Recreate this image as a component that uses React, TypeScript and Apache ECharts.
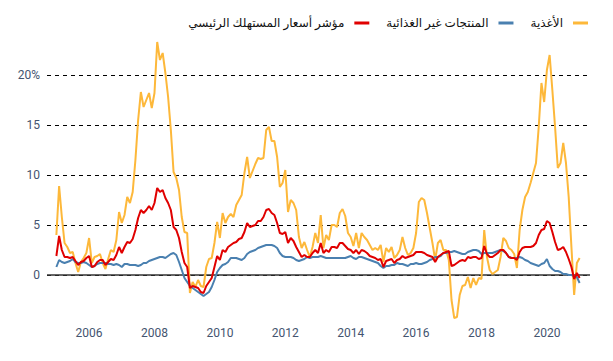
import React, { useEffect, useRef } from "react";
import * as echarts from "echarts";

const startYear = 2005;
const seriesNames = ["الأغذية", "المنتجات غير الغذائية", "مؤشر أسعار المستهلك الرئيسي"];
const legendOrder = ["مؤشر أسعار المستهلك الرئيسي", "المنتجات غير الغذائية", "الأغذية"];
const colors = ["#fdb83a", "#4a80b0", "#e00000"];
const xTickValues = [2006, 2008, 2010, 2012, 2014, 2016, 2018, 2020];
const yTickValues = [0, 5, 10, 15, 20];

// monthly values, Jan 2005 .. Jan 2021
const food = [
  4.0, 8.9, 5.8, 3.2, 2.8, 2.2, 2.3, 1.2, 0.3, 1.3, 1.7, 2.2,
  3.7, 1.2, 1.8, 1.9, 2.1, 1.2, 0.6, 1.6, 2.5, 2.3, 3.5, 6.3,
  5.2, 6.0, 7.8, 7.2, 8.3, 11.5, 15.5, 18.3, 16.8, 17.5, 18.2, 16.7,
  18.2, 23.3, 21.5, 22.2, 20.2, 17.8, 14.5, 10.3, 9.7, 8.5, 5.8, 4.3,
  4.2, -1.8, -0.7, -1.2, -0.5, -1.1, -1.2, 0.8, 1.6, 1.7, 3.2, 5.3,
  3.7, 6.2, 5.2, 5.8, 6.1, 5.8, 7.0, 7.5, 8.0, 10.2, 11.8, 9.7,
  10.4, 11.1, 11.7, 11.6, 11.7, 14.5, 14.8, 13.4, 13.4, 11.8, 8.8, 9.2,
  10.5, 6.3, 7.5, 7.2, 6.5, 3.8, 2.7, 3.3, 2.5, 1.8, 2.8, 4.2,
  3.2, 6.0, 2.7, 4.0, 3.5, 5.0, 5.0, 4.8, 6.2, 6.6, 5.9, 4.2,
  3.8, 2.9, 4.2, 2.7, 4.2, 3.8, 3.5, 3.0, 2.5, 2.7, 2.5, 3.0,
  1.3, 2.7, 2.3, 2.8, 1.7, 2.0, 2.5, 3.8, 2.7, 2.0, 2.2, 2.7,
  4.2, 7.3, 7.7, 7.5, 6.2, 4.7, 3.2, 1.5, 3.2, 3.5, 2.5, 2.5,
  1.5, -2.5, -4.3, -4.2, -2.0, -1.1, -1.0, -0.2, -1.3, -0.3, -1.0, -0.3,
  -0.4, 4.5, 1.8, 0.5, 0.1, 0.3, 0.5, 1.8, 3.7, 3.4, 2.7, 2.5,
  2.1, 0.7, 4.5, 6.5, 7.8, 8.3, 9.2, 10.2, 11.2, 14.8, 19.2, 17.3,
  20.5, 22.0, 18.5, 14.8, 10.7, 11.2, 13.2, 11.2, 7.8, 2.8, -2.0, 1.2,
  1.7,
];

const nonFood = [
  0.8, 1.5, 1.3, 1.2, 1.3, 1.4, 1.6, 1.3, 1.2, 1.2, 1.3, 1.2,
  1.0, 0.8, 0.9, 1.1, 1.2, 1.2, 1.2, 1.1, 1.1, 1.0, 1.1, 1.0,
  0.8, 1.1, 1.1, 1.0, 1.0, 1.0, 0.9, 1.0, 1.2, 1.2, 1.4, 1.5,
  1.6, 1.7, 1.8, 1.8, 1.7, 1.9, 2.1, 2.2, 2.0, 1.3, 0.5, -0.3,
  -0.7, -1.1, -1.3, -1.5, -1.7, -1.9, -2.1, -1.9, -1.7, -1.2, -0.5, 0.3,
  0.7, 1.0, 1.1, 1.3, 1.7, 1.7, 1.7, 1.6, 1.5, 1.7, 2.1, 2.3,
  2.4, 2.5, 2.7, 2.8, 2.9, 3.0, 3.0, 3.0, 2.9, 2.7, 2.2, 1.9,
  1.8, 1.8, 1.8, 1.7, 1.5, 1.4, 1.5, 1.6, 1.8, 1.7, 1.8, 1.8,
  1.8, 1.9, 1.8, 1.7, 1.7, 1.7, 1.7, 1.7, 1.7, 1.7, 1.7, 1.8,
  1.9, 1.7, 1.6, 1.8, 1.8, 1.7, 1.6, 1.5, 1.4, 1.3, 1.2, 0.9,
  0.7, 0.9, 0.9, 1.0, 1.0, 1.2, 1.1, 1.1, 1.0, 0.9, 1.1, 1.1,
  1.2, 1.1, 1.1, 1.2, 1.3, 1.5, 1.6, 1.8, 1.8, 1.9, 2.2, 2.2,
  2.3, 2.3, 2.4, 2.3, 2.2, 2.1, 2.1, 2.3, 2.4, 2.5, 2.5, 2.4,
  2.1, 2.2, 2.2, 2.2, 2.2, 2.3, 2.4, 2.5, 2.4, 2.2, 1.8, 1.7,
  1.7, 1.7, 1.8, 1.7, 1.5, 1.4, 1.2, 1.1, 1.0, 0.9, 1.1, 1.2,
  1.6, 0.9, 0.6, 0.4, 0.4, 0.3, 0.1, 0.1, 0.0, 0.0, -0.1, -0.2,
  -0.8,
];

const cpi = [
  1.9, 3.9, 2.5, 1.8, 1.8, 1.7, 1.8, 1.4, 1.0, 1.3, 1.4, 1.7,
  1.9, 0.8, 0.9, 1.3, 1.5, 1.5, 1.0, 1.3, 1.6, 1.5, 2.0, 2.8,
  2.2, 2.8, 3.3, 3.2, 3.6, 4.5, 5.7, 6.5, 6.2, 6.5, 6.9, 6.5,
  7.2, 8.7, 8.3, 8.5, 7.7, 7.2, 6.5, 4.8, 4.5, 3.7, 2.3, 1.2,
  0.8, -1.3, -1.1, -1.2, -1.3, -1.7, -1.8, -1.1, -0.7, -0.3, 0.8, 1.9,
  1.5, 2.5, 2.3, 2.8, 3.0, 3.2, 3.3, 3.6, 3.7, 4.3, 5.2, 4.8,
  4.9, 5.0, 5.4, 5.4, 5.8, 6.5, 6.6, 6.2, 6.0, 5.2, 4.2, 4.1,
  4.3, 3.2, 3.7, 3.4, 2.8, 2.3, 1.8, 2.0, 1.8, 1.8, 2.2, 2.5,
  2.2, 3.2, 2.2, 2.5, 2.3, 2.8, 2.8, 2.7, 3.2, 3.2, 2.9, 2.6,
  2.5, 2.2, 2.5, 2.1, 2.5, 2.4, 2.2, 1.9, 1.8, 1.7, 1.5, 1.6,
  0.8, 1.4, 1.5, 1.6, 1.2, 1.5, 1.6, 1.9, 1.7, 1.8, 1.9, 2.0,
  2.3, 2.3, 2.3, 2.2, 2.0, 1.9, 1.8, 1.3, 1.8, 2.0, 2.2, 2.3,
  2.4, 0.9, 1.0, 1.2, 1.4, 1.5, 1.4, 1.8, 1.7, 1.8, 1.8, 1.6,
  1.7, 2.9, 2.1, 1.8, 1.8, 2.0, 2.2, 2.5, 2.5, 2.2, 1.8, 1.7,
  1.7, 1.5, 2.3, 2.7, 2.8, 2.8, 2.8, 2.9, 3.2, 4.0, 4.5, 4.6,
  5.4, 5.2, 4.3, 3.3, 2.5, 2.6, 2.8, 2.3, 1.6, 0.8, -0.4, 0.2,
  -0.3,
];

const seriesValues = [food, nonFood, cpi];

const toPoints = (vals: number[]) => vals.map((v, i) => [startYear + i / 12, v]);

export default function App() {
  const ref = useRef<HTMLDivElement>(null);
  useEffect(() => {
    if (!ref.current) return;
    const chart = echarts.init(ref.current, undefined, { renderer: "svg" });
    const labelColor = "#44546f";
    const font = "Roboto, 'Noto Sans', 'DejaVu Sans', sans-serif";
    chart.setOption({
      animation: false,
      textStyle: { fontFamily: font },
      legend: {
        data: legendOrder,
        right: 20,
        top: 12,
        align: "right",
        icon: "rect",
        itemWidth: 15,
        itemHeight: 3,
        itemGap: 17,
        textStyle: { fontSize: 12, color: "#111", fontFamily: font, padding: [0, 5, 0, 0] },
      },
      grid: { left: 47, right: 23, top: 25, bottom: 36, containLabel: false },
      xAxis: {
        type: "value",
        min: 2004.713,
        max: 2021.318,
        axisLine: { show: false, onZero: false },
        axisTick: { show: false },
        splitLine: { show: false },
        axisLabel: {
          customValues: xTickValues,
          formatter: (v: number) => String(v),
          fontSize: 12,
          color: labelColor,
          margin: 2,
          fontFamily: font,
        },
      },
      yAxis: {
        type: "value",
        min: -5,
        max: 25,
        interval: 5,
        axisLine: { show: false },
        axisTick: { show: false },
        axisLabel: {
          fontSize: 12,
          color: labelColor,
          margin: 7,
          fontFamily: font,
          formatter: (v: number) =>
            yTickValues.includes(v) ? (v === 20 ? "20%" : String(v)) : "",
        },
        splitLine: {
          show: true,
          showMinLine: false,
          showMaxLine: false,
          lineStyle: { color: "#000", width: 1, type: [4, 4] },
        },
      },
      series: seriesValues.map((vals, idx) => ({
        name: seriesNames[idx],
        type: "line",
        data: toPoints(vals),
        showSymbol: false,
        symbol: "none",
        lineStyle: { color: colors[idx], width: 2 },
        itemStyle: { color: colors[idx] },
        z: 3 + idx,
        ...(idx === 0
          ? {
              markLine: {
                silent: true,
                symbol: "none",
                label: { show: false },
                lineStyle: { color: "#333", width: 1.5, type: "solid" },
                data: [{ yAxis: 0 }],
                z: 1,
              },
            }
          : {}),
      })),
    });
    return () => chart.dispose();
  }, []);
  return <div ref={ref} style={{ width: 613, height: 361, margin: -8 }} />;
}
